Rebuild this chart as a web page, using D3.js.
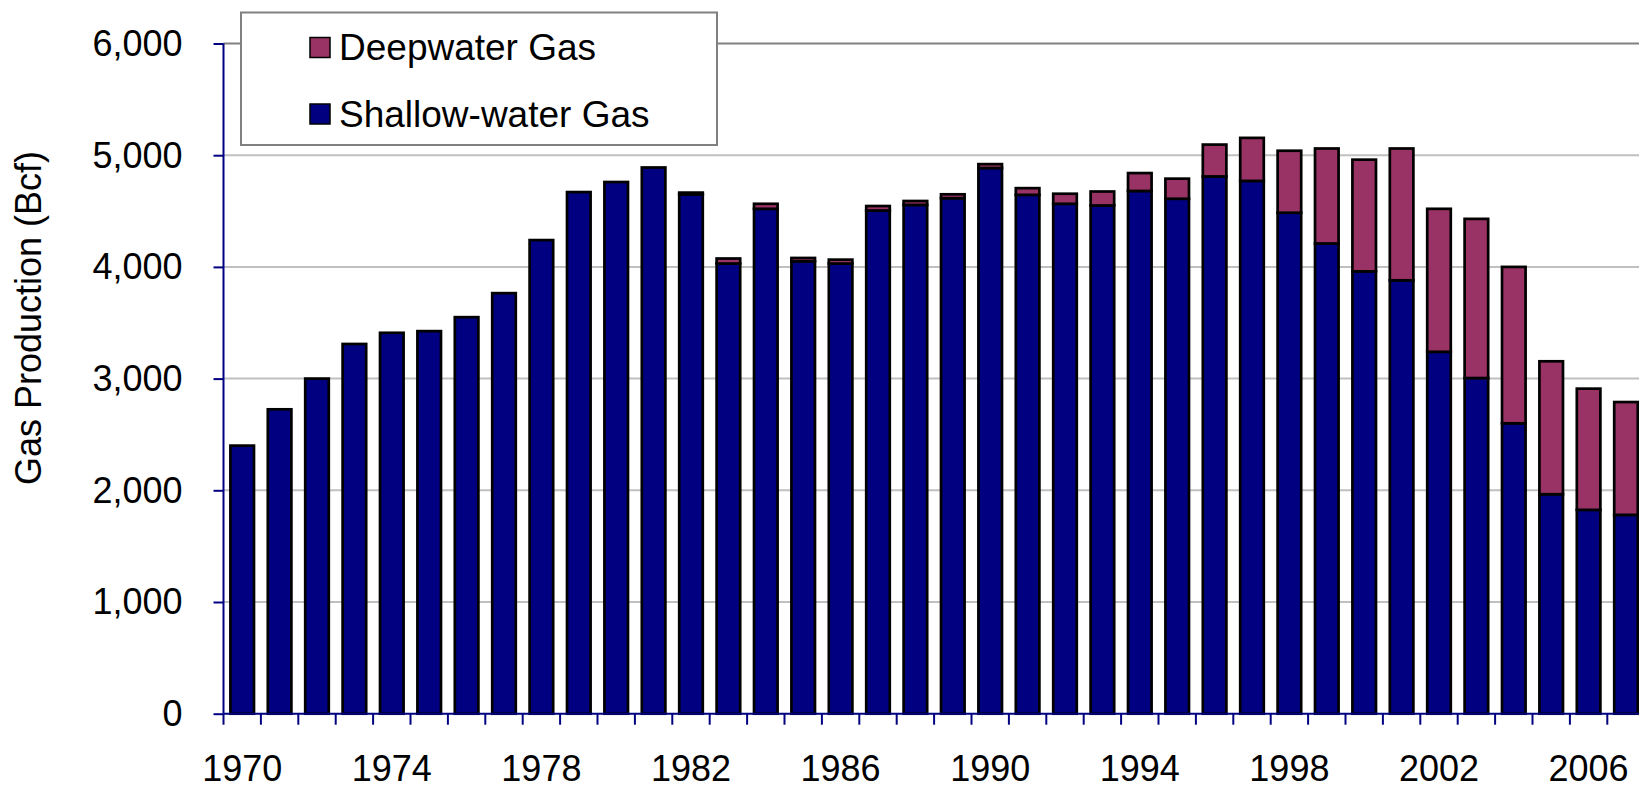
<!DOCTYPE html>
<html>
<head>
<meta charset="utf-8">
<script src="https://cdn.jsdelivr.net/npm/d3@7"></script>
<style>
  body { margin: 0; background: #fff; }
  text { font-family: "Liberation Sans", Arial, sans-serif; fill: #000; }
</style>
</head>
<body>
<svg></svg>
<script>
var years = d3.range(1970, 2008);

var shallow = [2400, 2725, 3000, 3310, 3410, 3425, 3550, 3765, 4240, 4670,
               4760, 4890, 4650, 4030, 4520, 4050, 4030, 4505, 4555, 4615,
               4885, 4645, 4565, 4550, 4680, 4610, 4810, 4770, 4485, 4210,
               3960, 3880, 3240, 3005, 2600, 1965, 1825, 1780];

var deep = [0, 0, 0, 0, 0, 0, 0, 0, 0, 0,
            0, 0, 15, 45, 45, 30, 35, 40, 35, 35,
            35, 60, 90, 125, 160, 180, 285, 385, 555, 850,
            1000, 1180, 1280, 1425, 1400, 1190, 1085, 1010];

var yTicks = [0, 1000, 2000, 3000, 4000, 5000, 6000];
var labelYears = d3.range(1970, 2008, 4);

var seriesNames = ["Deepwater Gas", "Shallow-water Gas"];
var colors = {"Deepwater Gas": "#993366", "Shallow-water Gas": "#000080"};

function draw_chart() {
    var width = 1639, height = 786;
    var plotLeft = 223.5, plotTop = 43.5, plotBottom = 713.7;
    var step = 37.4;

    var svg = d3.select("svg")
        .attr("width", width)
        .attr("height", height);

    var x = d3.scaleBand()
        .domain(years)
        .range([plotLeft, plotLeft + years.length * step])
        .paddingInner(0.37)
        .paddingOuter(0.185);

    var y = d3.scaleLinear()
        .domain([0, 6000])
        .range([plotBottom, plotTop]);

    // gridlines
    svg.append("g")
        .selectAll("line")
        .data(yTicks.filter(function(d) { return d > 0; }))
        .enter().append("line")
        .attr("x1", plotLeft)
        .attr("x2", width)
        .attr("y1", function(d) { return y(d); })
        .attr("y2", function(d) { return y(d); })
        .style("stroke", function(d) { return d === 6000 ? "#808080" : "#c0c0c0"; })
        .style("stroke-width", 2);

    var rows = years.map(function(yr, i) {
        return {year: yr, shallow: shallow[i], deep: deep[i]};
    });

    var bars = svg.append("g");

    bars.selectAll("rect.shallow")
        .data(rows)
        .enter().append("rect")
        .attr("class", "shallow")
        .attr("x", function(d) { return x(d.year); })
        .attr("width", x.bandwidth())
        .attr("y", function(d) { return y(d.shallow); })
        .attr("height", function(d) { return y(0) - y(d.shallow); })
        .style("fill", colors["Shallow-water Gas"])
        .style("stroke", "#000")
        .style("stroke-width", 2.7);

    bars.selectAll("rect.deep")
        .data(rows.filter(function(d) { return d.deep > 0; }))
        .enter().append("rect")
        .attr("class", "deep")
        .attr("x", function(d) { return x(d.year); })
        .attr("width", x.bandwidth())
        .attr("y", function(d) { return y(d.shallow + d.deep); })
        .attr("height", function(d) { return y(d.shallow) - y(d.shallow + d.deep); })
        .style("fill", colors["Deepwater Gas"])
        .style("stroke", "#000")
        .style("stroke-width", 2.7);

    // y axis
    var yAxis = d3.axisLeft(y)
        .tickValues(yTicks)
        .tickSize(10)
        .tickPadding(31)
        .tickFormat(d3.format(","));

    var gy = svg.append("g")
        .attr("transform", "translate(" + plotLeft + ",0)")
        .call(yAxis);
    gy.select(".domain").remove();
    gy.selectAll(".tick line").style("stroke", "#000080").style("stroke-width", 2);
    gy.selectAll(".tick text")
        .style("font-size", "36px")
        .style("font-family", "'Liberation Sans', Arial, sans-serif")
        .attr("dy", "0.33em");
    gy.append("line")
        .attr("x1", 0).attr("x2", 0)
        .attr("y1", plotTop).attr("y2", plotBottom)
        .style("stroke", "#000080")
        .style("stroke-width", 2);

    // x axis: boundary ticks for every year, labels every 4 years
    var gx = svg.append("g")
        .attr("transform", "translate(0," + plotBottom + ")");

    gx.append("line")
        .attr("x1", plotLeft).attr("x2", width)
        .style("stroke", "#000080")
        .style("stroke-width", 2);

    gx.selectAll("line.tick")
        .data(years)
        .enter().append("line")
        .attr("class", "tick")
        .attr("x1", function(d) { return x(d) - (x.step() - x.bandwidth()) / 2; })
        .attr("x2", function(d) { return x(d) - (x.step() - x.bandwidth()) / 2; })
        .attr("y1", 0)
        .attr("y2", 11)
        .style("stroke", "#000080")
        .style("stroke-width", 2);

    gx.selectAll("text")
        .data(labelYears)
        .enter().append("text")
        .attr("x", function(d) { return x(d) + x.bandwidth() / 2; })
        .attr("y", 67)
        .attr("text-anchor", "middle")
        .style("font-size", "36px")
        .text(function(d) { return d; });

    // y axis title
    svg.append("text")
        .attr("transform", "translate(41,318) rotate(-90)")
        .attr("text-anchor", "middle")
        .style("font-size", "36px")
        .text("Gas Production (Bcf)");

    // legend
    var legend = svg.append("g");
    legend.append("rect")
        .attr("x", 241)
        .attr("y", 12.5)
        .attr("width", 476)
        .attr("height", 132.5)
        .style("fill", "#fff")
        .style("stroke", "#808080")
        .style("stroke-width", 2);

    var item = legend.selectAll("g.item")
        .data(seriesNames)
        .enter().append("g")
        .attr("class", "item")
        .attr("transform", function(d, i) { return "translate(0," + (47.5 + i * 66.5) + ")"; });

    item.append("rect")
        .attr("x", 310)
        .attr("y", -10)
        .attr("width", 20)
        .attr("height", 20)
        .style("fill", function(d) { return colors[d]; })
        .style("stroke", "#000")
        .style("stroke-width", 1.5);

    item.append("text")
        .attr("x", 339)
        .attr("y", 0)
        .attr("dy", "0.35em")
        .style("font-size", "37px")
        .text(function(d) { return d; });
}

draw_chart();
</script>
</body>
</html>
